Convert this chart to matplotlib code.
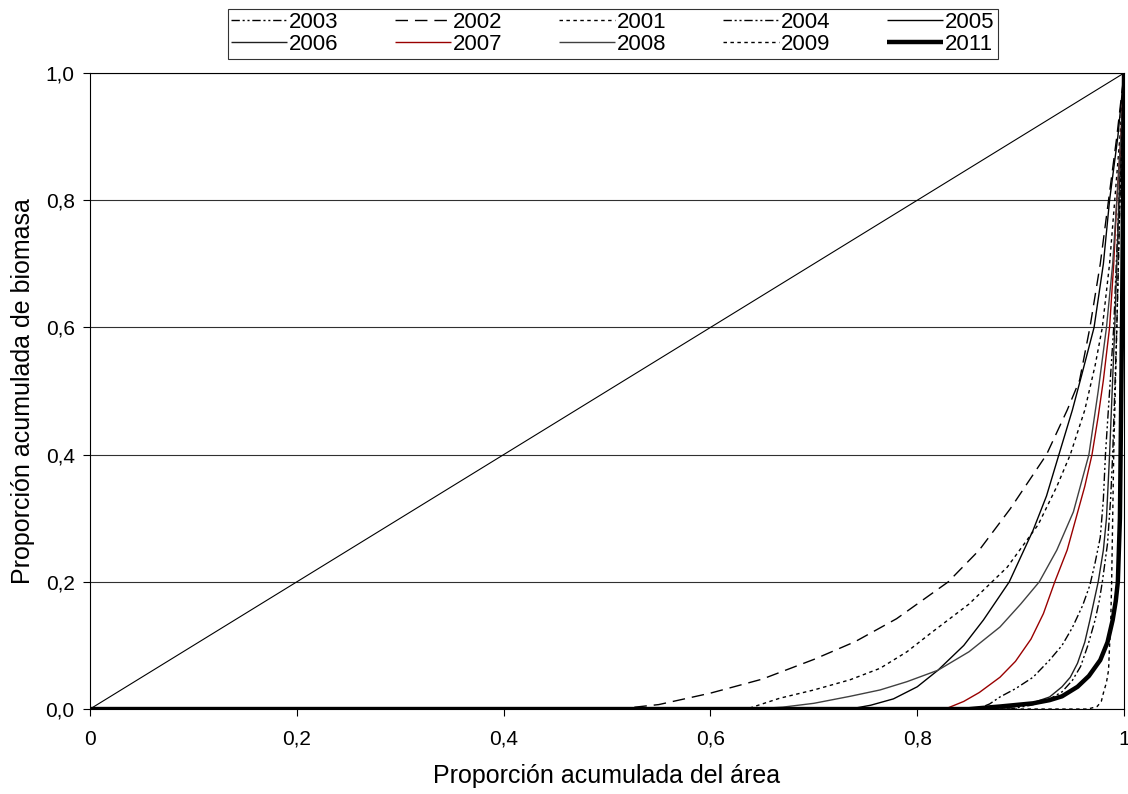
import matplotlib
matplotlib.use("Agg")
import matplotlib.pyplot as plt

plt.rcParams['font.family'] = ['Liberation Sans', 'DejaVu Sans']

# cumulative proportion of area (x) / biomass (y) per year
x2003 = [0, 0.858, 0.87, 0.88, 0.895, 0.912, 0.928, 0.94, 0.95, 0.96, 0.967, 0.972, 0.977, 0.98, 0.982, 0.986, 0.99, 0.995, 1.0]
y2003 = [0, 0, 0.008, 0.019, 0.032, 0.05, 0.077, 0.1, 0.128, 0.163, 0.195, 0.23, 0.27, 0.33, 0.4, 0.5, 0.6, 0.8, 1.0]

x2002 = [0, 0.51, 0.55, 0.60, 0.65, 0.70, 0.74, 0.78, 0.83, 0.86, 0.89, 0.925, 0.945, 0.957, 0.967, 0.977, 0.985, 0.993, 1.0]
y2002 = [0, 0, 0.007, 0.025, 0.047, 0.078, 0.106, 0.142, 0.2, 0.25, 0.315, 0.4, 0.47, 0.517, 0.6, 0.7, 0.8, 0.9, 1.0]

x2001 = [0, 0.635, 0.667, 0.70, 0.735, 0.764, 0.79, 0.812, 0.85, 0.887, 0.917, 0.935, 0.948, 0.962, 0.972, 0.979, 0.986, 0.991, 0.996, 1.0]
y2001 = [0, 0, 0.017, 0.03, 0.046, 0.064, 0.09, 0.118, 0.165, 0.223, 0.29, 0.35, 0.4, 0.47, 0.54, 0.6, 0.7, 0.8, 0.9, 1.0]

x2004 = [0, 0.89, 0.91, 0.925, 0.94, 0.95, 0.958, 0.965, 0.972, 0.976, 0.979, 0.984, 0.987, 0.989, 0.993, 0.996, 1.0]
y2004 = [0, 0, 0.006, 0.013, 0.027, 0.045, 0.067, 0.1, 0.14, 0.17, 0.2, 0.26, 0.33, 0.4, 0.6, 0.8, 1.0]

x2005 = [0, 0.735, 0.755, 0.777, 0.80, 0.82, 0.845, 0.864, 0.889, 0.912, 0.925, 0.937, 0.95, 0.959, 0.971, 0.98, 0.986, 0.994, 1.0]
y2005 = [0, 0, 0.006, 0.016, 0.035, 0.061, 0.1, 0.14, 0.2, 0.281, 0.335, 0.4, 0.47, 0.525, 0.6, 0.7, 0.8, 0.9, 1.0]

x2006 = [0, 0.88, 0.90, 0.912, 0.928, 0.94, 0.948, 0.955, 0.962, 0.967, 0.971, 0.975, 0.98, 0.983, 0.986, 0.991, 0.995, 1.0]
y2006 = [0, 0, 0.005, 0.01, 0.019, 0.035, 0.05, 0.072, 0.105, 0.14, 0.17, 0.2, 0.25, 0.3, 0.4, 0.6, 0.8, 1.0]

x2007 = [0, 0.827, 0.845, 0.86, 0.88, 0.895, 0.91, 0.922, 0.933, 0.945, 0.953, 0.962, 0.969, 0.975, 0.980, 0.986, 0.990, 0.993, 0.997, 1.0]
y2007 = [0, 0, 0.012, 0.026, 0.05, 0.075, 0.11, 0.15, 0.2, 0.25, 0.297, 0.35, 0.4, 0.46, 0.517, 0.6, 0.7, 0.8, 0.9, 1.0]

x2008 = [0, 0.64, 0.67, 0.70, 0.735, 0.764, 0.79, 0.82, 0.85, 0.88, 0.90, 0.918, 0.935, 0.951, 0.966, 0.975, 0.983, 0.989, 0.993, 0.997, 1.0]
y2008 = [0, 0, 0.003, 0.009, 0.02, 0.03, 0.043, 0.061, 0.09, 0.129, 0.165, 0.2, 0.25, 0.31, 0.4, 0.5, 0.6, 0.7, 0.8, 0.9, 1.0]

x2009 = [0, 0.965, 0.974, 0.978, 0.98, 0.983, 0.985, 0.986, 0.987, 0.988, 0.99, 0.993, 0.996, 1.0]
y2009 = [0, 0, 0.004, 0.012, 0.025, 0.042, 0.061, 0.1, 0.129, 0.2, 0.4, 0.6, 0.8, 1.0]

x2011 = [0, 0.85, 0.88, 0.912, 0.928, 0.94, 0.955, 0.966, 0.977, 0.984, 0.989, 0.992, 0.994, 0.996, 0.998, 1.0]
y2011 = [0, 0, 0.004, 0.009, 0.014, 0.02, 0.035, 0.052, 0.077, 0.105, 0.14, 0.17, 0.2, 0.3, 0.6, 1.0]

diag_x = [0, 1]
diag_y = [0, 1]

ticks = [0, 0.2, 0.4, 0.6, 0.8, 1.0]
xtick_labels = ['0', '0,2', '0,4', '0,6', '0,8', '1']
ytick_labels = ['0,0', '0,2', '0,4', '0,6', '0,8', '1,0']

fig = plt.figure(figsize=(11.28, 7.94), dpi=100)
ax = fig.add_axes([0.0798, 0.107, 0.9167, 0.801])

ax.plot(diag_x, diag_y, color='black', lw=0.8)

dashdotdot = (6, 2, 1.5, 2, 1.5, 2)
series = [
    (x2003, y2003, '2003', 'black', 1.0, dashdotdot),
    (x2002, y2002, '2002', 'black', 1.0, (9, 5)),
    (x2001, y2001, '2001', 'black', 1.0, (2.5, 2.5)),
    (x2004, y2004, '2004', 'black', 1.0, dashdotdot),
    (x2005, y2005, '2005', 'black', 1.0, None),
    (x2006, y2006, '2006', '#202020', 1.0, None),
    (x2007, y2007, '2007', '#990000', 1.0, None),
    (x2008, y2008, '2008', '#404040', 1.0, None),
    (x2009, y2009, '2009', 'black', 1.0, (2.5, 2.5)),
    (x2011, y2011, '2011', 'black', 3.2, None),
]
handles = []
for xs, ys, lab, col, lw, dash in series:
    line, = ax.plot(xs, ys, color=col, lw=lw, label=lab, solid_capstyle='butt')
    if dash is not None:
        line.set_dashes(dash)
    handles.append(line)

ax.set_xlim(0, 1)
ax.set_ylim(0, 1)
ax.set_xticks(ticks)
ax.set_xticklabels(xtick_labels)
ax.set_yticks(ticks)
ax.set_yticklabels(ytick_labels)
ax.tick_params(axis='both', direction='out', length=5, width=0.8, labelsize=15, colors='black')
ax.tick_params(axis='x', pad=10)
ax.tick_params(axis='y', pad=6)
ax.yaxis.grid(True, color='#303030', lw=0.8)
ax.set_axisbelow(True)
for s in ax.spines.values():
    s.set_color('black')
    s.set_linewidth(0.8)

ax.set_xlabel('Proporción acumulada del área', fontsize=18, labelpad=11)
ax.set_ylabel('Proporción acumulada de biomasa', fontsize=18, labelpad=8)

# legend is filled row by row in the original
order = [0, 5, 1, 6, 2, 7, 3, 8, 4, 9]
leg = ax.legend([handles[i] for i in order], [series[i][2] for i in order],
                loc='upper center', bbox_to_anchor=(0.5435, 0.989), bbox_transform=fig.transFigure,
                ncol=5, fontsize=16, frameon=True, fancybox=False, handlelength=2.5,
                handletextpad=0.1, columnspacing=2.55, labelspacing=0.05, borderpad=0.15,
                borderaxespad=0)
leg.get_frame().set_edgecolor('black')
leg.get_frame().set_linewidth(0.8)

fig.savefig('out.png', dpi=100)
